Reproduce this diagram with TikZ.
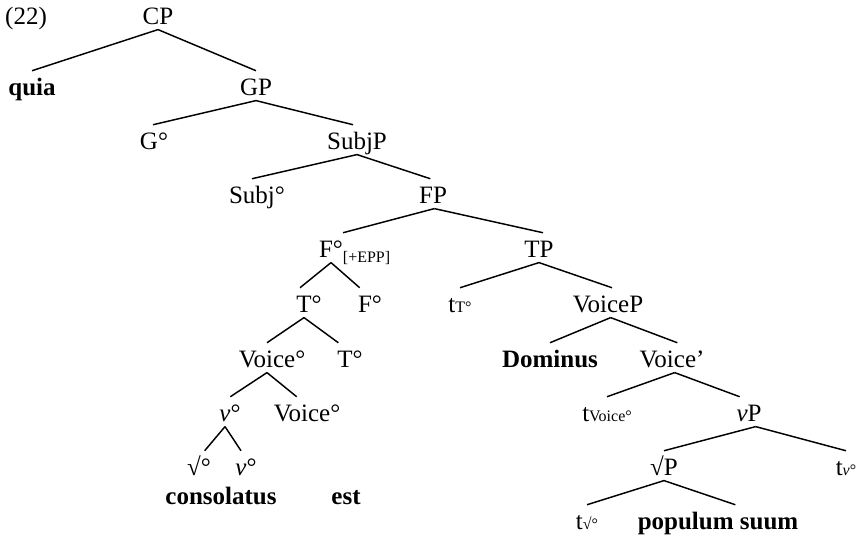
\documentclass[tikz,border=0pt]{standalone}
\usepackage{fontspec}
\setmainfont{Liberation Serif}
\usepackage{tikz}

\newcommand{\smalltxt}[1]{{\fontsize{12}{12}\selectfont #1}}
\newcommand{\hd}[1]{#1\rlap{°}}

\tikzset{
  lbl/.style={anchor=base, inner xsep=0pt, inner ysep=4pt, text height=14pt, text depth=0pt, font=\fontsize{18.75}{22}\selectfont},
  wrd/.style={lbl, font=\fontsize{18.75}{22}\selectfont\bfseries},
  branch/.style={line width=1.1pt}
}

\begin{document}
\begin{tikzpicture}[x=0.75pt,y=0.75pt,yscale=-1,xscale=1]
\useasboundingbox (0,0) rectangle (863,546);

% Text Node
\node[lbl] (ex) at (26,24) {(22)};
\node[lbl] (CP) at (158,24) {CP};
% Text Node
\node[wrd] (quia) at (32,95) {quia};
\node[lbl] (GP) at (256,95) {GP};
% Text Node
\node[lbl] (Go) at (149,149) {\hd{G}};
\node[lbl] (SubjP) at (357,149) {SubjP};
% Text Node
\node[lbl] (Subjo) at (252,203) {\hd{Subj}};
\node[lbl] (FP) at (433,203) {FP};
% Text Node
\node[lbl] (Fo) at (331,257) {F°\rlap{\raisebox{-4pt}{\smalltxt{[+EPP]}}}};
\node[lbl] (TP) at (539,257) {TP};
% Text Node
\node[lbl] (To) at (304,312) {\hd{T}};
\node[lbl] (Fob) at (365,312) {\hd{F}};
\node[lbl] (tT) at (460,312) {t\smalltxt{T°}};
\node[lbl] (VoiceP) at (608,312) {VoiceP};
% Text Node
\node[lbl] (Voiceo) at (267,367) {\hd{Voice}};
\node[lbl] (Tob) at (345,367) {\hd{T}};
\node[wrd] (Dominus) at (550,367) {Dominus};
\node[lbl] (Voicebar) at (672,367) {Voice’};
% Text Node
\node[lbl] (vo) at (225,421) {\hd{\textit{v}}};
\node[lbl] (Voiceob) at (302,421) {\hd{Voice}};
\node[lbl] (tVoice) at (607,421) {t\smalltxt{Voice°}};
\node[lbl] (vP) at (749,421) {\textit{v}P};
% Text Node
\node[lbl] (rooto) at (194,475) {\hd{√}};
\node[lbl] (vob) at (241,475) {\hd{\textit{v}}};
\node[lbl] (rootP) at (664,475) {√P};
\node[lbl] (tv) at (846,475) {t\smalltxt{\textit{v}°}};
% Text Node
\node[wrd] (consolatus) at (221,504) {consolatus};
\node[wrd] (est) at (346,504) {est};
% Text Node
\node[lbl] (troot) at (587,529) {t\smalltxt{√°}};
\node[wrd] (populum) at (718,529) {populum suum};

%Straight Lines
\draw[branch] (CP.south) -- (quia.north);
\draw[branch] (CP.south) -- (GP.north);
\draw[branch] (GP.south) -- ([xshift=3pt]Go.north);
\draw[branch] (GP.south) -- ([xshift=-3pt]SubjP.north);
\draw[branch] (SubjP.south) -- (Subjo.north);
\draw[branch] (SubjP.south) -- ([xshift=-2pt]FP.north);
\draw[branch] ([xshift=1pt]FP.south) -- ([xshift=9pt]Fo.north);
\draw[branch] ([xshift=1pt]FP.south) -- ([xshift=3pt]TP.north);
%Straight Lines
\draw[branch] (Fo.south) -- ([xshift=-3pt]To.north);
\draw[branch] (Fo.south) -- ([xshift=-4pt]Fob.north);
\draw[branch] (TP.south) -- (tT.north);
\draw[branch] (TP.south) -- ([xshift=3pt]VoiceP.north);
%Straight Lines
\draw[branch] (To.south) -- (Voiceo.north);
\draw[branch] (To.south) -- ([xshift=-5pt]Tob.north);
\draw[branch] ([xshift=2pt]VoiceP.south) -- (Dominus.north);
\draw[branch] ([xshift=2pt]VoiceP.south) -- ([xshift=4pt]Voicebar.north);
%Straight Lines
\draw[branch] (Voiceo.south) -- ([xshift=4pt]vo.north);
\draw[branch] (Voiceo.south) -- ([xshift=-4pt]Voiceob.north);
\draw[branch] ([xshift=2pt]Voicebar.south) -- (tVoice.north);
\draw[branch] ([xshift=2pt]Voicebar.south) -- ([xshift=-7pt]vP.north);
%Straight Lines
\draw[branch] (vo.south) -- ([xshift=8pt]rooto.north);
\draw[branch] (vo.south) -- (vob.north);
\draw[branch] ([xshift=5pt]vP.south) -- (rootP.north);
\draw[branch] ([xshift=5pt]vP.south) -- (tv.north);
%Straight Lines
\draw[branch] (rootP.south) -- (troot.north);
\draw[branch] (rootP.south) -- ([xshift=13pt]populum.north);

\end{tikzpicture}
\end{document}
